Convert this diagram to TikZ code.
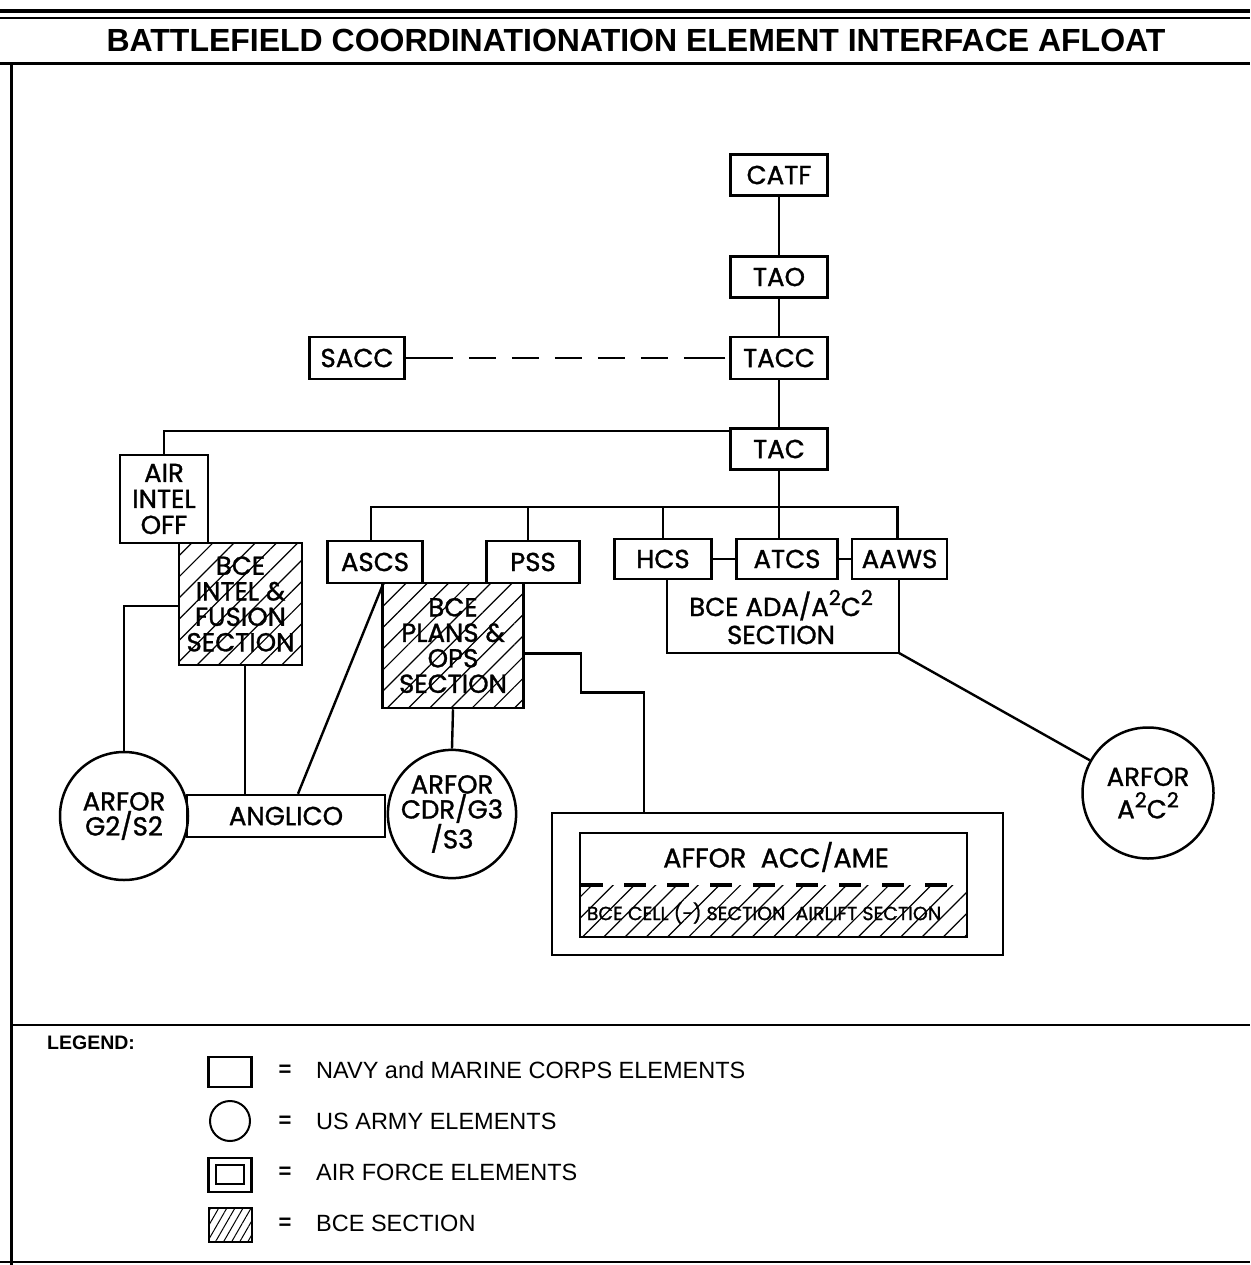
\documentclass[tikz,border=0pt]{standalone}
\usepackage{fontspec}
\setmainfont{Liberation Sans}
\newfontfamily\lab[FakeBold=1.2]{Poppins}
\usetikzlibrary{patterns.meta}
\newcommand\supx[1]{\raisebox{0.42em}{\scalebox{0.8}{#1}}}
\tikzset{
  elem/.style={draw, line width=2.5pt, inner sep=0pt, align=center,
    font=\lab\fontsize{26}{26}\selectfont},
  army/.style={circle, draw, line width=2.5pt, inner sep=0pt, align=center,
    font=\lab\fontsize{26}{25}\selectfont},
  sect/.style={elem, pattern={Lines[angle=45,distance=15pt,line width=1.2pt]},
    font=\lab\fontsize{26}{25.5}\selectfont},
  hatchfill/.style={pattern={Lines[angle=45,distance=15pt,line width=1.2pt]}},
  conn/.style={line width=2.4pt},
  frameline/.style={line width=3pt},
  legtext/.style={anchor=west, inner sep=0pt, font=\fontsize{23.5}{23.5}\selectfont},
  legeq/.style={anchor=center, inner sep=0pt, font=\bfseries\fontsize{22}{22}\selectfont},
}
\begin{document}
\begin{tikzpicture}[x=1pt,y=-1pt]
\useasboundingbox (0,0) rectangle (1250,1265);
% frame
\draw[line width=4pt] (0,11) -- (1250,11);
\draw[line width=1.5pt] (0,18) -- (1250,18);
\node[inner sep=0pt, font=\bfseries\fontsize{32}{32}\selectfont] (title) at (636,40) {BATTLEFIELD COORDINATIONATION ELEMENT INTERFACE AFLOAT};
\draw[frameline] (0,64) -- (1250,64);
\draw[frameline] (11,64) -- (11,1265);
\draw[line width=2.5pt] (11,1025) -- (1250,1025);
\draw[line width=2pt] (0,1262) -- (1250,1262);

% spine
\node[elem, minimum width=97, minimum height=41] (catf) at (779,175) {CATF};
\node[elem, minimum width=97, minimum height=41] (tao) at (779,277) {TAO};
\node[elem, minimum width=97, minimum height=42] (tacc) at (779,358) {TACC};
\node[elem, minimum width=95, minimum height=42] (sacc) at (357,358) {SACC};
\node[elem, minimum width=97, minimum height=41] (tac) at (779,449) {TAC};

\node[elem, minimum width=88, minimum height=88] (airintel) at (164,499) {AIR\\INTEL\\OFF};
\node[sect, minimum width=123, minimum height=122] (bceintel) at (240.5,604) {BCE\\INTEL \&\\FUSION\\SECTION};

\node[elem, minimum width=95, minimum height=42] (ascs) at (375,562) {ASCS};
\node[elem, minimum width=93, minimum height=42] (pss) at (533,562) {PSS};
\node[sect, minimum width=141, minimum height=125] (bceplans) at (453,645.5) {BCE\\PLANS \&\\OPS\\SECTION};

\node[elem, minimum width=97, minimum height=40] (hcs) at (663,559) {HCS};
\node[elem, minimum width=101, minimum height=40] (atcs) at (787,559) {ATCS};
\node[elem, minimum width=95, minimum height=40] (aaws) at (899.5,559) {AAWS};

% ADA section (open-topped box under HCS/ATCS/AAWS)
\coordinate (adaNW) at (667,579);
\coordinate (adaSW) at (667,653);
\coordinate (adaSE) at (899,653);
\coordinate (adaNE) at (899,579);
\draw[line width=2.5pt] (adaNW) -- (adaSW) -- (adaSE) -- (adaNE);
\node[inner sep=0pt, align=center, font=\lab\fontsize{26}{27}\selectfont] (adalabel) at (781,617)
  {BCE ADA/A\supx{2}C\supx{2}\\[1pt]SECTION};

% army circles
\node[army, minimum size=128] (g2) at (124,816) {ARFOR\\G2/S2};
\node[elem, minimum width=198, minimum height=42] (anglico) at (286,816) {ANGLICO};
\node[army, minimum size=128] (cdr) at (452,814) {ARFOR\\CDR/G3\\/S3};
\node[army, minimum size=131] (arfora) at (1148,793) {ARFOR\\[5pt]A\supx{2}C\supx{2}};

% AFFOR
\node[draw, line width=2.5pt, minimum width=451, minimum height=142, inner sep=0pt] (affor) at (777.5,884) {};
\fill[hatchfill] (581,885) rectangle (966,936);
\node[draw, line width=2.5pt, minimum width=387, minimum height=104, inner sep=0pt] (afforin) at (773.5,885) {};
\node[inner sep=0pt, font=\lab\fontsize{27}{27}\selectfont] (afforlabel) at (776,857) {AFFOR\ \ ACC/AME};
\coordinate (dl) at (581,885);
\coordinate (dr) at (966,885);
\draw[line width=4pt, dash pattern=on 22pt off 21pt] (dl) -- (dr);
\node[inner sep=0pt, font=\lab\fontsize{19}{19}\selectfont] (cellabel) at (764,913) {BCE CELL (-) SECTION\ \ AIRLIFT SECTION};

% connectors
\draw[conn] (catf) -- (tao);
\draw[conn] (tao) -- (tacc);
\draw[conn] (tacc) -- (tac);
\draw[conn] (sacc.east) -- ++(20,0) coordinate (sd1);
\draw[conn, dash pattern=on 27pt off 16pt] (sd1) -- ([xshift=-20pt]tacc.west) coordinate (sd2);
\draw[conn] ([xshift=-4pt]tacc.west) -- ++(-16,0);
\draw[conn] ([yshift=-4pt]tac.north west) -| (airintel.north);
\coordinate (bus) at (779,507);
\draw[conn] (tac.south) -- (bus);
\draw[conn] ([xshift=-4pt]ascs.north) |- (bus) -| ([xshift=-2pt]aaws.north);
\draw[conn] ([xshift=-5pt]pss.north) -- ([xshift=-5pt]pss.north |- bus);
\draw[conn] (hcs.north) -- (hcs.north |- bus);
\draw[conn] (atcs.north -| bus) -- (bus);
\draw[conn] (hcs.east) -- (atcs.west);
\draw[conn] (atcs.east) -- (aaws.west);
\draw[conn] ([yshift=-2pt]bceintel.west) -| (g2.north);
\draw[conn] ([xshift=4.5pt]bceintel.south) -- ([xshift=4.5pt]bceintel.south |- anglico.north);
\draw[conn] ([xshift=8pt]ascs.south) -- ([xshift=12pt]anglico.north);
\draw[conn] (bceplans.south) -- (cdr.north);
\draw[conn] ([yshift=-8pt]bceplans.east) -- ++(56,0) -- ++(0,39) -- ++(63,0) coordinate (k3) -- (k3 |- affor.north);
\draw[conn] (adaSE) -- (arfora);

% legend
\node[inner sep=0pt, anchor=west, font=\bfseries\fontsize{19.5}{19.5}\selectfont] (legend) at (47,1043) {LEGEND:};
\node[draw, line width=2.5pt, minimum width=43, minimum height=30, inner sep=0pt] (lgsq) at (230,1072) {};
\node[legeq] (lgeq1) at (285,1071) {=};
\node[legtext] (lgt1) at (316,1070) {NAVY and MARINE CORPS ELEMENTS};
\node[circle, draw, line width=2pt, minimum size=40, inner sep=0pt] (lgci) at (230,1121) {};
\node[legeq] (lgeq2) at (285,1122) {=};
\node[legtext] (lgt2) at (316,1121) {US ARMY ELEMENTS};
\node[draw, line width=2.5pt, minimum width=43, minimum height=34, inner sep=0pt] (lgaf) at (230,1175) {};
\node[draw, line width=2pt, minimum width=28, minimum height=19, inner sep=0pt] (lgafin) at (230,1174) {};
\node[legeq] (lgeq3) at (285,1173) {=};
\node[legtext] (lgt3) at (316,1172) {AIR FORCE ELEMENTS};
\node[draw, line width=2pt, minimum width=43, minimum height=34, inner sep=0pt,
  pattern={Lines[angle=60,distance=7pt,line width=1pt]}] (lgbce) at (230,1225) {};
\node[legeq] (lgeq4) at (285,1224) {=};
\node[legtext] (lgt4) at (316,1223) {BCE SECTION};
\end{tikzpicture}
\end{document}
